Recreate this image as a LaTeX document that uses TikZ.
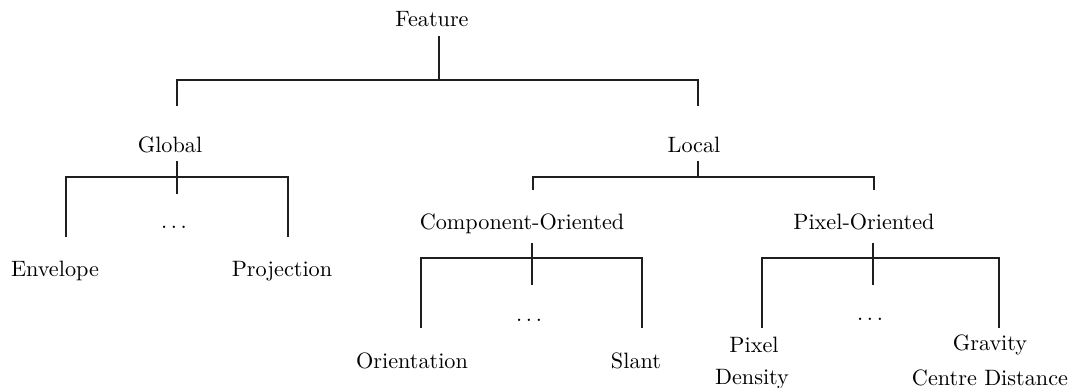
\documentclass[tikz,border=0pt]{standalone}
\begin{document}
\begin{tikzpicture}[x=0.45pt,y=-0.45pt,
  lbl/.style={inner sep=0pt, anchor=base},
  branch/.style={line width=1pt, draw=black!88}]
\useasboundingbox (0,0) rectangle (1071,387);

% ---- labels ----
\node[lbl] (feature) at (432,26)  {Feature};
\node[lbl] (global)  at (170,152) {Global};
\node[lbl] (local)   at (694,152) {Local};
\node[lbl] (g-dots)  at (174,228) {$\ldots$};
\node[lbl] (envelope)   at (55,276)  {Envelope};
\node[lbl] (projection) at (282,276) {Projection};
\node[lbl] (component)  at (522,229) {Component-Oriented};
\node[lbl] (pixelor)    at (864,229) {Pixel-Oriented};
\node[lbl] (c-dots)     at (529,321) {$\ldots$};
\node[lbl] (p-dots)     at (870,320) {$\ldots$};
\node[lbl] (orientation) at (412,368) {Orientation};
\node[lbl] (slant)       at (636,368) {Slant};
\node[lbl] (pixel)       at (754,352) {Pixel};
\node[lbl] (density)     at (752,384) {Density};
\node[lbl] (gravity)     at (990,350) {Gravity};
\node[lbl] (centre)      at (990,385) {Centre Distance};

% ---- Feature: Global / Local ----
\coordinate (f-top)   at (439,36);
\coordinate (f-join)  at (439,80);
\coordinate (f-left)  at (177,106);
\coordinate (f-right) at (698,106);
\draw[branch] (f-top) -- (f-join);
\draw[branch] (f-left) |- (f-join) -| (f-right);

% ---- Global ----
\coordinate (g-top)   at (177,161);
\coordinate (g-bot)   at (177,194);
\coordinate (g-join)  at (177,177);
\coordinate (g-left)  at (66,237);
\coordinate (g-right) at (288,237);
\draw[branch] (g-top) -- (g-bot);
\draw[branch] (g-left) |- (g-join) -| (g-right);

% ---- Local ----
\coordinate (l-top)   at (698,161);
\coordinate (l-join)  at (698,177);
\coordinate (l-left)  at (533,190);
\coordinate (l-right) at (874,190);
\draw[branch] (l-top) -- (l-join);
\draw[branch] (l-left) |- (l-join) -| (l-right);

% ---- Component-Oriented ----
\coordinate (c-top)   at (532,243);
\coordinate (c-bot)   at (532,285);
\coordinate (c-join)  at (532,258);
\coordinate (c-left)  at (421,328);
\coordinate (c-right) at (642,328);
\draw[branch] (c-top) -- (c-bot);
\draw[branch] (c-left) |- (c-join) -| (c-right);

% ---- Pixel-Oriented ----
\coordinate (p-top)   at (873,243);
\coordinate (p-bot)   at (873,285);
\coordinate (p-join)  at (873,258);
\coordinate (p-left)  at (762,328);
\coordinate (p-right) at (999,328);
\draw[branch] (p-top) -- (p-bot);
\draw[branch] (p-left) |- (p-join) -| (p-right);
\end{tikzpicture}
\end{document}
